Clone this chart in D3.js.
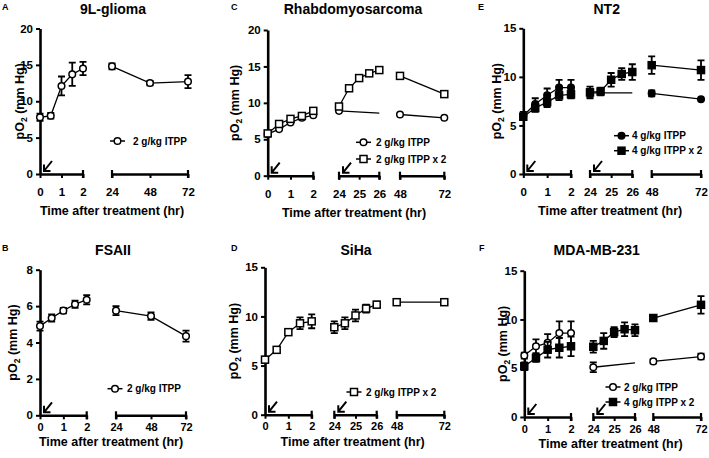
<!DOCTYPE html>
<html>
<head>
<meta charset="utf-8">
<script src="https://cdn.jsdelivr.net/npm/d3@7"></script>
<style>
  body { margin: 0; background: #fff; }
  text { font-family: "Liberation Sans", Arial, sans-serif; font-weight: bold; fill: #000; }
</style>
</head>
<body>
<svg width="709" height="458"></svg>
<script>
// ---- data (pO2, mm Hg) ----
const timesShort = [0, 0.5, 1, 1.5, 2, 24, 48, 72];
const timesOnce = [0, 0.5, 1, 1.5, 2, 24, 26, 48, 72];
const timesTwice = [0, 0.5, 1, 1.5, 2, 24, 24.5, 25, 25.5, 26, 48, 72];

const gliomaMean = [7.8, 8.0, 12.1, 13.7, 14.5, 14.8, 12.5, 12.7];
const gliomaErr  = [0.5, 0.4, 1.3, 1.6, 0.9, 0.4, 0.3, 0.9];

const fsaMean = [4.9, 5.35, 5.75, 6.1, 6.35, 5.75, 5.45, 4.35];
const fsaErr  = [0.25, 0.2, 0.15, 0.2, 0.25, 0.25, 0.2, 0.3];

const rhabdoOnceMean  = [5.7, 6.4, 7.3, 7.95, 8.3, 8.9, 8.6, 8.4, 7.95];
const rhabdoOnceErr   = [0.1, 0.1, 0.1, 0.1, 0.1, 0.1, 0, 0.1, 0.1];
const rhabdoTwiceMean = [5.8, 7.1, 7.8, 8.2, 8.9, 9.5, 12.0, 13.4, 14.05, 14.5, 13.7, 11.2];
const rhabdoTwiceErr  = [0.1, 0.1, 0.1, 0.1, 0.1, 0.1, 0.1, 0.1, 0.1, 0.1, 0.1, 0.1];

const sihaMean = [5.6, 6.6, 8.4, 9.3, 9.5, 8.9, 9.3, 10.1, 10.8, 11.2, 11.45, 11.45];
const sihaErr  = [0.3, 0.2, 0.3, 0.6, 0.7, 0.6, 0.6, 0.6, 0.4, 0.3, 0.2, 0.2];

const nt2OnceMean  = [6.0, 7.2, 8.1, 8.9, 8.9, 8.35, 8.35, 8.3, 7.7];
const nt2OnceErr   = [0.4, 0.6, 0.7, 0.8, 0.8, 0.4, 0, 0.3, 0.1];
const nt2TwiceMean = [5.9, 6.8, 7.4, 8.1, 8.2, 8.4, 8.5, 9.7, 10.3, 10.5, 11.2, 10.7];
const nt2TwiceErr  = [0.3, 0.4, 0.5, 0.5, 0.4, 0.6, 0.4, 0.7, 0.6, 0.8, 0.9, 1.0];

const mdaOnceMean  = [6.3, 7.25, 7.6, 8.6, 8.6, 5.1, 5.55, 5.7, 6.2];
const mdaOnceErr   = [0.3, 0.7, 0.9, 1.2, 1.2, 0.5, 0, 0.2, 0.3];
const mdaTwiceMean = [5.2, 6.05, 6.9, 7.1, 7.25, 7.2, 7.8, 8.7, 9.0, 8.9, 10.15, 11.5];
const mdaTwiceErr  = [0.4, 0.4, 0.8, 1.0, 1.0, 0.6, 0.8, 0.5, 0.7, 0.6, 0.3, 0.9];

const yTicks20 = [0, 5, 10, 15, 20];
const yTicks15 = [0, 5, 10, 15];
const yTicks8 = [0, 2, 4, 6, 8];

// ---- layout of the six panels ----
const rowTop = { tickPad: 10, tickFont: 11.5, titleOff: 41 };
const rowBottom = { tickPad: 4, tickFont: 11, titleOff: 31 };

const panels = [
  { letter: "A", lx: 2, title: "9L-glioma", tx: 113, top: 0, row: rowTop, x0: 40, yTop: 28.5, yBot: 174, yMax: 20, yTicks: yTicks20, yTitleX: 20,
    segs: [{ d: [0, 2], r: [40, 83], t: [0, 1, 2] }, { d: [24, 72], r: [112, 188], t: [24, 48, 72] }],
    series: [{ time: timesShort, mean: gliomaMean, err: gliomaErr, shape: "circle", fill: false, label: "2 g/kg ITPP" }],
    legend: { cx: 117.5, tx: 133, y: 141, dy: 0 }, arrows: [0] },
  { letter: "B", lx: 2, title: "FSAII", tx: 113, top: 241, row: rowBottom, x0: 40, yTop: 269.7, yBot: 415.3, yMax: 8, yTicks: yTicks8, yTitleX: 13,
    segs: [{ d: [0, 2], r: [40, 86.7], t: [0, 1, 2] }, { d: [24, 72], r: [116, 186], t: [24, 48, 72] }],
    series: [{ time: timesShort, mean: fsaMean, err: fsaErr, shape: "circle", fill: false, label: "2 g/kg ITPP" }],
    legend: { cx: 115, tx: 127, y: 388.7, dy: 0 }, arrows: [0] },
  { letter: "C", lx: 231, title: "Rhabdomyosarcoma", tx: 353, top: 0, row: rowTop, x0: 267.7, yTop: 30, yBot: 175.7, yMax: 20, yTicks: yTicks20, yTitleX: 235,
    segs: [{ d: [0, 2], r: [267.7, 313.3], t: [0, 1, 2] }, { d: [24, 26], r: [339, 379.3], t: [24, 25, 26] }, { d: [48, 72], r: [400, 444.3], t: [48, 72] }],
    series: [
      { time: timesOnce, mean: rhabdoOnceMean, err: rhabdoOnceErr, shape: "circle", fill: false, label: "2 g/kg ITPP", hide: [26] },
      { time: timesTwice, mean: rhabdoTwiceMean, err: rhabdoTwiceErr, shape: "square", fill: false, label: "2 g/kg ITPP x 2" }],
    legend: { cx: 363.5, tx: 376, y: 142.3, dy: 16.7 }, arrows: [0, 24] },
  { letter: "D", lx: 231, title: "SiHa", tx: 356, top: 241, row: rowBottom, x0: 265, yTop: 267.3, yBot: 414.7, yMax: 15, yTicks: yTicks15, yTitleX: 234,
    segs: [{ d: [0, 2], r: [265, 311.7], t: [0, 1, 2] }, { d: [24, 26], r: [334.3, 376.7], t: [24, 25, 26] }, { d: [48, 72], r: [396.7, 444.3], t: [48, 72] }],
    series: [{ time: timesTwice, mean: sihaMean, err: sihaErr, shape: "square", fill: false, label: "2 g/kg ITPP x 2" }],
    legend: { cx: 354, tx: 366, y: 392, dy: 0 }, arrows: [0, 24] },
  { letter: "E", lx: 478, title: "NT2", tx: 606.7, top: 0, row: rowTop, x0: 523.3, yTop: 28.3, yBot: 174, yMax: 15, yTicks: yTicks15, yTitleX: 497,
    segs: [{ d: [0, 2], r: [523.3, 571], t: [0, 1, 2] }, { d: [24, 26], r: [590, 632.3], t: [24, 25, 26] }, { d: [48, 72], r: [651.7, 701], t: [48, 72] }],
    series: [
      { time: timesOnce, mean: nt2OnceMean, err: nt2OnceErr, shape: "circle", fill: true, label: "4 g/kg ITPP", hide: [26] },
      { time: timesTwice, mean: nt2TwiceMean, err: nt2TwiceErr, shape: "square", fill: true, label: "4 g/kg ITPP x 2" }],
    legend: { cx: 621.5, tx: 632, y: 135.7, dy: 15 }, arrows: [0, 24] },
  { letter: "F", lx: 479, title: "MDA-MB-231", tx: 596.7, top: 241, row: rowBottom, x0: 524.3, yTop: 270.7, yBot: 417, yMax: 15, yTicks: yTicks15, yTitleX: 503,
    segs: [{ d: [0, 2], r: [524.3, 571], t: [0, 1, 2] }, { d: [24, 26], r: [593.3, 635], t: [24, 25, 26] }, { d: [48, 72], r: [653.3, 701], t: [48, 72] }],
    series: [
      { time: timesOnce, mean: mdaOnceMean, err: mdaOnceErr, shape: "circle", fill: false, label: "2 g/kg ITPP", hide: [26] },
      { time: timesTwice, mean: mdaTwiceMean, err: mdaTwiceErr, shape: "square", fill: true, label: "4 g/kg ITPP x 2" }],
    legend: { cx: 613, tx: 624, y: 387, dy: 15 }, arrows: [0, 24] }
];

const svg = d3.select("svg");

// marker drawing
function drawMarker(g, s, cx, cy) {
  if (s.shape === "circle") {
    g.append("circle").attr("cx", cx).attr("cy", cy).attr("r", 3.3)
      .attr("fill", s.fill ? "#000" : "#fff").attr("stroke", "#000").attr("stroke-width", 1.5);
  } else {
    g.append("rect").attr("x", cx - 3.5).attr("y", cy - 3.5).attr("width", 7).attr("height", 7)
      .attr("fill", s.fill ? "#000" : "#fff").attr("stroke", "#000").attr("stroke-width", 1.5);
  }
}

panels.forEach(p => {
  const g = svg.append("g");
  const y = d3.scaleLinear().domain([0, p.yMax]).range([p.yBot, p.yTop]);
  const segs = p.segs.map(s => ({ scale: d3.scaleLinear().domain(s.d).range(s.r), ticks: s.t }));
  const segOf = t => segs.find(s => t >= s.scale.domain()[0] && t <= s.scale.domain()[1]);

  // panel letter and title
  g.append("text").attr("x", p.lx).attr("y", p.top + 10).attr("font-size", 9).text(p.letter);
  g.append("text").attr("x", p.tx).attr("y", p.top + 13.5).attr("font-size", 14)
    .attr("text-anchor", "middle").text(p.title);

  // y axis
  const yAxis = g.append("g").attr("transform", `translate(${p.x0},0)`)
    .call(d3.axisLeft(y).tickValues(p.yTicks).tickSize(4).tickSizeOuter(0).tickPadding(3).tickFormat(d3.format("d")));
  yAxis.select(".domain").attr("stroke-width", 2.6);
  yAxis.selectAll(".tick line").attr("stroke-width", 2);
  yAxis.selectAll(".tick text").attr("font-size", 11.5).attr("font-family", null);

  // y title with subscript
  const yt = g.append("text")
    .attr("transform", `translate(${p.yTitleX},${(p.yTop + p.yBot) / 2}) rotate(-90)`)
    .attr("text-anchor", "middle").attr("dy", "0.35em").attr("font-size", 12.5);
  yt.append("tspan").text("pO");
  yt.append("tspan").attr("font-size", 8.5).attr("dy", 3).text("2");
  yt.append("tspan").attr("dy", -3).text(" (mm Hg)");

  // broken x axis segments
  segs.forEach((s, i) => {
    const ax = g.append("g").attr("transform", `translate(0,${p.yBot})`)
      .call(d3.axisBottom(s.scale).tickValues(s.ticks).tickSize(4).tickSizeOuter(0)
        .tickPadding(p.row.tickPad).tickFormat(d3.format("d")));
    ax.select(".domain").attr("stroke-width", 2.6);
    ax.selectAll(".tick line").attr("stroke-width", 2);
    ax.selectAll(".tick text").attr("font-size", p.row.tickFont).attr("font-family", null);
    const [r0, r1] = s.scale.range();
    const ends = i === 0 ? [r1] : [r0, r1];
    ends.forEach(e => {
      g.append("line").attr("x1", e).attr("x2", e).attr("y1", p.yBot - 4).attr("y2", p.yBot + 4)
        .attr("stroke", "#000").attr("stroke-width", 2.2);
    });
  });

  // x title
  const xL = segs[0].scale.range()[0], xR = segs[segs.length - 1].scale.range()[1];
  g.append("text").attr("x", (xL + xR) / 2 - 2).attr("y", p.yBot + p.row.titleOff).attr("font-size", 12.5)
    .attr("text-anchor", "middle").text("Time after treatment (hr)");

  // arrows marking treatment
  p.arrows.forEach(t => {
    const tipX = segOf(t).scale(t) + 4, tipY = p.yBot - 3;
    g.append("path")
      .attr("d", `M${tipX + 8},${tipY - 10}L${tipX},${tipY}M${tipX},${tipY - 6.5}L${tipX},${tipY}L${tipX + 6.5},${tipY}`)
      .attr("fill", "none").attr("stroke", "#000").attr("stroke-width", 2);
  });

  // series
  p.series.forEach(s => {
    const pts = s.time.map((t, i) => ({ t, v: s.mean[i], e: s.err[i], hidden: (s.hide || []).includes(t) }));
    segs.forEach(seg => {
      const sp = pts.filter(d => segOf(d.t) === seg);
      if (sp.length < 2) return;
      const line = d3.line().x(d => seg.scale(d.t)).y(d => y(d.v));
      g.append("path").attr("d", line(sp)).attr("fill", "none").attr("stroke", "#000").attr("stroke-width", 1.3);
    });
    pts.filter(d => !d.hidden).forEach(d => {
      const cx = segOf(d.t).scale(d.t);
      if (d.e > 0.12) {
        g.append("path")
          .attr("d", `M${cx},${y(d.v - d.e)}V${y(d.v + d.e)}M${cx - 3.5},${y(d.v - d.e)}H${cx + 3.5}M${cx - 3.5},${y(d.v + d.e)}H${cx + 3.5}`)
          .attr("fill", "none").attr("stroke", "#000").attr("stroke-width", 1.8);
      }
    });
    pts.filter(d => !d.hidden).forEach(d => drawMarker(g, s, segOf(d.t).scale(d.t), y(d.v)));
  });

  // legend
  p.series.forEach((s, i) => {
    const ly = p.legend.y + i * p.legend.dy;
    g.append("line").attr("x1", p.legend.cx - 7.5).attr("x2", p.legend.cx + 7.5).attr("y1", ly).attr("y2", ly)
      .attr("stroke", "#000").attr("stroke-width", 1.5);
    drawMarker(g, s, p.legend.cx, ly);
    g.append("text").attr("x", p.legend.tx).attr("y", ly).attr("dy", "0.35em").attr("font-size", 10).text(s.label);
  });
});
</script>
</body>
</html>
